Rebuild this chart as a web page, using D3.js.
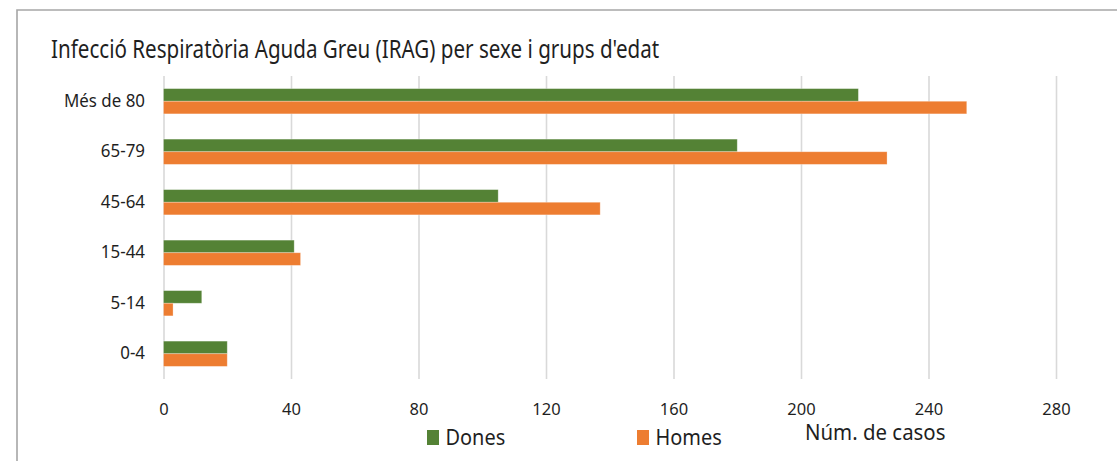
<!DOCTYPE html>
<html>
<head>
<meta charset="utf-8">
<script src="https://cdn.jsdelivr.net/npm/d3@7"></script>
<style>
  body { margin: 0; background: #fff; }
  text { font-family: "Noto Sans", "Open Sans", sans-serif; fill: #1f1f1f; }
</style>
</head>
<body>
<script>
// data
var categories = ["Més de 80", "65-79", "45-64", "15-44", "5-14", "0-4"];
var dones = [218, 180, 105, 41, 12, 20];
var homes = [252, 227, 137, 43, 3, 20];
var seriesNames = ["Dones", "Homes"];
var seriesColors = ["#548235", "#ED7D31"];
var xTicks = [0, 40, 80, 120, 160, 200, 240, 280];
var titleText = "Infecció Respiratòria Aguda Greu (IRAG) per sexe i grups d'edat";
var xTitle = "Núm. de casos";

var W = 1117, H = 461;
var plot = {left: 163.5, right: 1056, top: 76, bottom: 379};

var svg = d3.select("body").append("svg")
            .attr('width', W)
            .attr('height', H);

// frame (only top and left edges visible)
svg.append("path")
   .attr('d', "M17," + (H + 5) + "V10H" + (W + 5))
   .attr('fill', "none")
   .attr('stroke', "#a6a6a6")
   .attr('stroke-width', 1.6);

// title (narrowed a bit, like the picture)
svg.append("text")
   .attr('transform', "translate(51,58) scale(0.824,1)")
   .style('font-size', "25px")
   .text(titleText);

// scales
var x = d3.scaleLinear()
          .domain([0, 280])
          .range([plot.left, plot.right]);

var y = d3.scaleBand()
          .domain(categories)
          .range([plot.top, plot.bottom])
          .paddingInner(0.5)
          .paddingOuter(0.25);

var ySub = d3.scaleBand()
             .domain(seriesNames)
             .range([0, y.bandwidth()]);

// grid + x labels
var xAxis = svg.append("g")
               .attr('transform', "translate(0," + plot.bottom + ")")
               .call(d3.axisBottom(x)
                       .tickValues(xTicks)
                       .tickSizeInner(-(plot.bottom - plot.top))
                       .tickSizeOuter(0)
                       .tickPadding(24.3));
xAxis.select(".domain").remove();
xAxis.selectAll(".tick line")
     .attr('stroke', "#d9d9d9")
     .attr('stroke-width', 1.6);
xAxis.selectAll(".tick text")
     .style('font-size', "16.5px")
     .style('font-family', '"Noto Sans", sans-serif')
     .attr('fill', "#1f1f1f");

// bars
var rows = categories.map(function(c, i){ return {cat: c, vals: [dones[i], homes[i]]}; });

var groups = svg.append("g").selectAll("g")
                .data(rows)
                .enter()
                .append("g")
                .attr('transform', function(d){ return "translate(0," + y(d.cat) + ")"; });

groups.selectAll("rect")
      .data(function(d){ return d.vals.map(function(v, j){ return {s: seriesNames[j], v: v, c: seriesColors[j]}; }); })
      .enter()
      .append("rect")
      .attr('x', x(0))
      .attr('y', function(d){ return ySub(d.s); })
      .attr('width', function(d){ return x(d.v) - x(0); })
      .attr('height', ySub.bandwidth())
      .attr('fill', function(d){ return d.c; })
      .attr('stroke', "#ffffff")
      .attr('stroke-opacity', 0.35)
      .attr('stroke-width', 0.8);

// category labels
svg.append("g").selectAll("text")
   .data(categories)
   .enter()
   .append("text")
   .attr('transform', function(d){ return "translate(145," + (y(d) + y.bandwidth() / 2 + 5.5) + ") scale(0.94,1)"; })
   .attr('text-anchor', "end")
   .style('font-size', "18px")
   .text(function(d){ return d; });

// legend
var legendX = [427, 637];
var legend = svg.append("g").selectAll("g")
                .data(seriesNames)
                .enter()
                .append("g")
                .attr('transform', function(d, i){ return "translate(" + legendX[i] + ",0)"; });
legend.append("rect")
      .attr('x', 0)
      .attr('y', 430)
      .attr('width', 12)
      .attr('height', 15)
      .attr('fill', function(d, i){ return seriesColors[i]; });
legend.append("text")
      .attr('transform', "translate(18.5,445) scale(0.95,1)")
      .style('font-size', "21px")
      .text(function(d){ return d; });

// axis title
svg.append("text")
   .attr('transform', "translate(805,440) scale(0.95,1)")
   .style('font-size', "21.5px")
   .text(xTitle);
</script>
</body>
</html>
